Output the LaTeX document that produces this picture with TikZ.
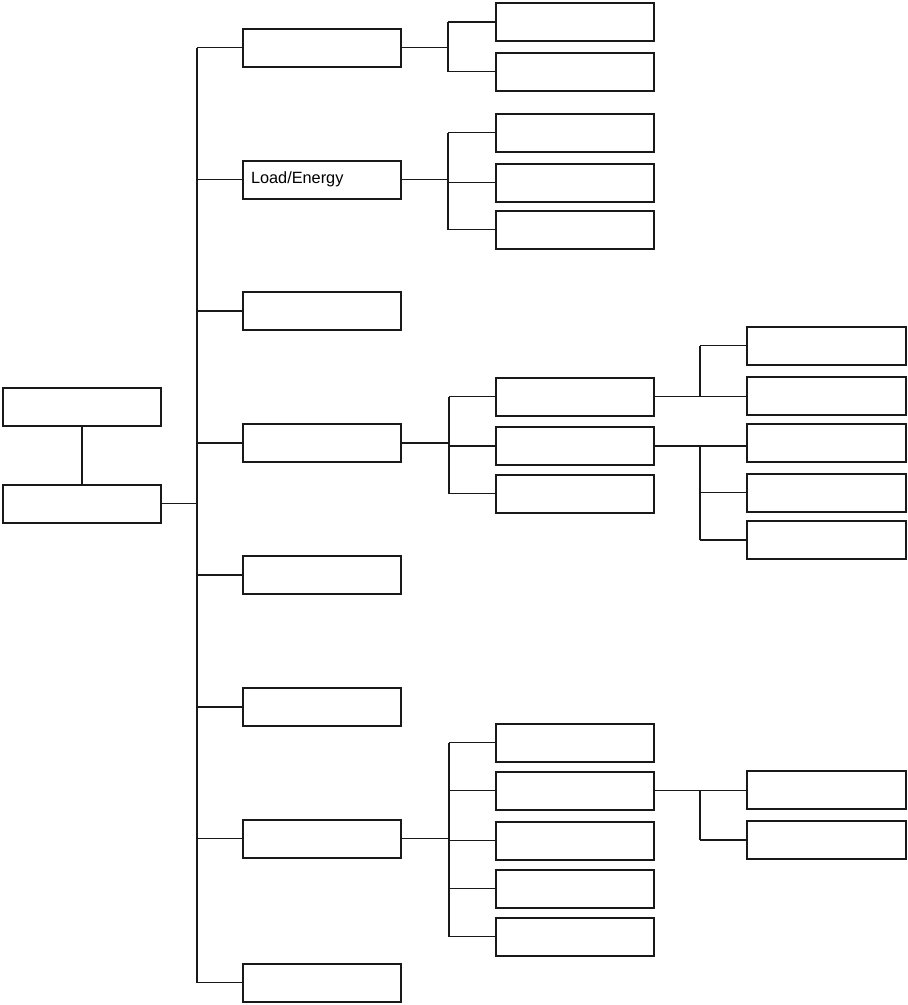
\documentclass[tikz,border=0pt]{standalone}
\usepackage{fontspec}
\setmainfont{Liberation Sans}
\begin{document}
\begin{tikzpicture}[x=1pt,y=-1pt,
  box/.style={draw=black!90, line width=2pt, minimum width=158pt, minimum height=38pt, inner sep=0pt, fill=white},
  conn/.style={draw=black!90, line width=1.3pt},
  thickconn/.style={draw=black!90, line width=1.8pt}]
\useasboundingbox (0,0) rectangle (908,1005);
% root
\node[box] (A) at (82,406.5) {};
\node[box] (B) at (82,503.5) {};
% level 1
\node[box] (L1a) at (322,47.5) {};
\node[box, text width=142pt, align=left, font=\fontsize{16.3}{19}\selectfont] (L1b) at (322,179.5) {Load/Energy};
\node[box] (L1c) at (322,311) {};
\node[box] (L1d) at (322,443) {};
\node[box] (L1e) at (322,575) {};
\node[box] (L1f) at (322,707) {};
\node[box] (L1g) at (322,838.5) {};
\node[box] (L1h) at (322,982.5) {};
% level 2
\node[box] (P1) at (575,22) {};
\node[box] (P2) at (575,71.5) {};
\node[box] (Q1) at (575,132.5) {};
\node[box] (Q2) at (575,182.5) {};
\node[box] (Q3) at (575,229.5) {};
\node[box] (R1) at (575,396.5) {};
\node[box] (R2) at (575,446) {};
\node[box] (R3) at (575,493.5) {};
\node[box] (S1) at (575,742.5) {};
\node[box] (S2) at (575,790.5) {};
\node[box] (S3) at (575,840.5) {};
\node[box] (S4) at (575,888.5) {};
\node[box] (S5) at (575,936.5) {};
% level 3
\node[box, minimum width=159pt] (T1) at (826.5,345.5) {};
\node[box, minimum width=159pt] (T2) at (826.5,395.5) {};
\node[box, minimum width=159pt] (U1) at (826.5,442.5) {};
\node[box, minimum width=159pt] (U2) at (826.5,492.5) {};
\node[box, minimum width=159pt] (U3) at (826.5,540) {};
\node[box, minimum width=159pt] (V1) at (826.5,790) {};
\node[box, minimum width=159pt] (V2) at (826.5,840) {};
% bus coordinates
\coordinate (tr) at (197,0);
\coordinate (ga) at (448,0);
\coordinate (gb) at (449,0);
\coordinate (gc) at (700,0);
% root links
\draw[conn] (A) -- (B);
\draw[conn] (B.east) -- (B.east -| tr);
% trunk
\draw[thickconn] (tr |- L1a.west) -- (tr |- L1h.west);
\foreach \n in {L1a,L1b,L1c,L1d,L1e,L1f,L1g,L1h}
  \draw[thickconn] (\n.west -| tr) -- (\n.west);
% group 1
\draw[conn] (L1a.east) -- (L1a.east -| ga);
\draw[conn] (ga |- P1.west) -- (ga |- P2.west);
\draw[thickconn] (P1.west -| ga) -- (P1.west);
\draw[conn] (P2.west -| ga) -- (P2.west);
% group 2
\draw[thickconn] (L1b.east) -- (L1b.east -| ga);
\draw[conn] (ga |- Q1.west) -- (ga |- Q3.west);
\draw[thickconn] (Q1.west -| ga) -- (Q1.west);
\draw[thickconn] (Q2.west -| ga) -- (Q2.west);
\draw[thickconn] (Q3.west -| ga) -- (Q3.west);
% group 3
\draw[conn] (L1d.east) -- (L1d.east -| gb);
\draw[conn] (gb |- R1.west) -- (gb |- R3.west);
\foreach \n in {R1,R2,R3}
  \draw[conn] (\n.west -| gb) -- (\n.west);
% sub a
\draw[thickconn] (R1.east) -- (R1.east -| T2.west);
\draw[conn] (gc |- T1.west) -- (gc |- R1.east);
\draw[conn] (T1.west -| gc) -- (T1.west);
% sub b
\draw[conn] (R2.east) -- (R2.east -| U1.west);
\draw[thickconn] (gc |- R2.east) -- (gc |- U3.west);
\draw[thickconn] (U2.west -| gc) -- (U2.west);
\draw[thickconn] (U3.west -| gc) -- (U3.west);
% group 4
\draw[thickconn] (L1g.east) -- (L1g.east -| gb);
\draw[conn] (gb |- S1.west) -- (gb |- S5.west);
\draw[conn] (S1.west -| gb) -- (S1.west);
\draw[conn] (S2.west -| gb) -- (S2.west);
\draw[conn] (S3.west -| gb) -- (S3.west);
\draw[thickconn] (S4.west -| gb) -- (S4.west);
\draw[conn] (S5.west -| gb) -- (S5.west);
% sub group 4
\draw[conn] (S2.east) -- (S2.east -| V1.west);
\draw[conn] (gc |- S2.east) -- (gc |- V2.west);
\draw[conn] (V2.west -| gc) -- (V2.west);
\end{tikzpicture}
\end{document}
